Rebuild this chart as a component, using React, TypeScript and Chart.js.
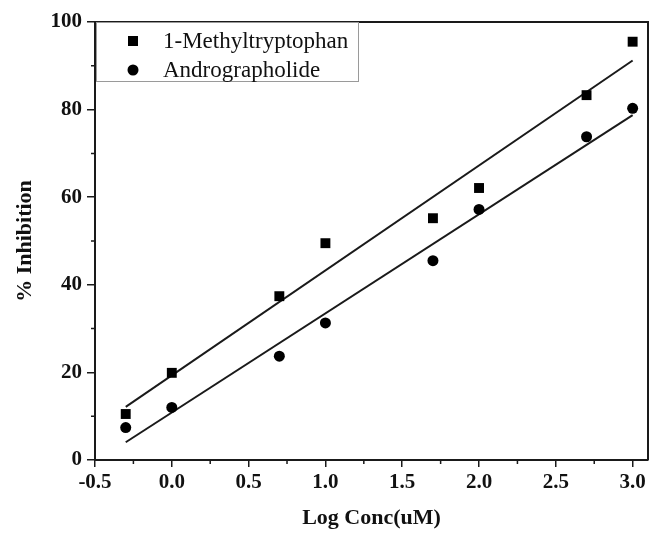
import React, { useEffect, useRef } from "react";
import { Chart, registerables } from "chart.js";

Chart.register(...registerables);

const logConc = [-0.3, 0, 0.7, 1, 1.7, 2, 2.7, 3];
const methylTryptophan = [10.5, 19.9, 37.4, 49.5, 55.2, 62.1, 83.3, 95.5];
const andrographolide = [7.4, 12.0, 23.7, 31.3, 45.5, 57.2, 73.8, 80.3];
const seriesNames = ["1-Methyltryptophan", "Andrographolide"];
const xTitle = "Log Conc(uM)";
const yTitle = "% Inhibition";
const xMinorTicks = [-0.25, 0.25, 0.75, 1.25, 1.75, 2.25, 2.75];
const yMinorTicks = [10, 30, 50, 70, 90];

function linearFit(xs: number[], ys: number[]) {
  const n = xs.length;
  const mx = xs.reduce((a, b) => a + b, 0) / n;
  const my = ys.reduce((a, b) => a + b, 0) / n;
  let sxy = 0;
  let sxx = 0;
  for (let i = 0; i < n; i++) {
    sxy += (xs[i] - mx) * (ys[i] - my);
    sxx += (xs[i] - mx) * (xs[i] - mx);
  }
  const slope = sxy / sxx;
  const intercept = my - slope * mx;
  const x0 = Math.min(...xs);
  const x1 = Math.max(...xs);
  return [
    { x: x0, y: intercept + slope * x0 },
    { x: x1, y: intercept + slope * x1 },
  ];
}

const INK = "#1a1a1a";

const framePlugin = {
  id: "frame",
  afterDraw(chart: any) {
    const { ctx, chartArea } = chart;
    const xs = chart.scales.x;
    const ys = chart.scales.y;
    ctx.save();
    ctx.strokeStyle = INK;
    ctx.lineWidth = 2;
    ctx.beginPath();
    ctx.moveTo(chartArea.left, chartArea.top);
    ctx.lineTo(chartArea.right, chartArea.top);
    ctx.lineTo(chartArea.right, chartArea.bottom);
    ctx.stroke();
    ctx.lineWidth = 1.5;
    ctx.beginPath();
    xMinorTicks.forEach((v) => {
      const px = xs.getPixelForValue(v);
      ctx.moveTo(px, chartArea.bottom);
      ctx.lineTo(px, chartArea.bottom + 4);
    });
    yMinorTicks.forEach((v) => {
      const py = ys.getPixelForValue(v);
      ctx.moveTo(chartArea.left, py);
      ctx.lineTo(chartArea.left - 4, py);
    });
    ctx.stroke();

    const lx = chartArea.left + 1;
    const ly = chartArea.top;
    const lw = 262;
    const lh = 59;
    ctx.strokeStyle = "#9a9a9a";
    ctx.lineWidth = 1;
    ctx.strokeRect(lx + 0.5, ly + 0.5, lw, lh);
    const mx = chartArea.left + 38;
    const r1 = ly + 19;
    const r2 = ly + 48;
    ctx.fillStyle = "#000";
    ctx.fillRect(mx - 5, r1 - 5, 10, 10);
    ctx.beginPath();
    ctx.arc(mx, r2, 5.5, 0, Math.PI * 2);
    ctx.fill();
    ctx.fillStyle = "#111";
    ctx.font = "23px 'Liberation Serif'";
    ctx.textBaseline = "middle";
    ctx.textAlign = "left";
    ctx.fillText(seriesNames[0], chartArea.left + 68, r1 + 1);
    ctx.fillText(seriesNames[1], chartArea.left + 68, r2 + 1);
    ctx.restore();
  },
};

export default function App() {
  const ref = useRef<HTMLCanvasElement | null>(null);

  useEffect(() => {
    if (!ref.current) return;
    const pts = (ys: number[]) => logConc.map((x, i) => ({ x, y: ys[i] }));
    const chart = new Chart(ref.current, {
      type: "scatter",
      data: {
        datasets: [
          {
            label: seriesNames[0],
            data: pts(methylTryptophan),
            pointStyle: "rect",
            pointRadius: 7,
            pointBackgroundColor: "#000",
            pointBorderWidth: 0,
          },
          {
            label: seriesNames[1],
            data: pts(andrographolide),
            pointStyle: "circle",
            pointRadius: 5.5,
            pointBackgroundColor: "#000",
            pointBorderWidth: 0,
          },
          {
            label: "fit1",
            data: linearFit(logConc, methylTryptophan),
            showLine: true,
            pointRadius: 0,
            borderColor: INK,
            borderWidth: 2,
          },
          {
            label: "fit2",
            data: linearFit(logConc, andrographolide),
            showLine: true,
            pointRadius: 0,
            borderColor: INK,
            borderWidth: 2,
          },
        ],
      },
      options: {
        animation: false,
        responsive: false,
        layout: { autoPadding: false, padding: { top: 22, right: 1, left: 0, bottom: 0 } },
        plugins: { legend: { display: false }, tooltip: { enabled: false } },
        scales: {
          x: {
            type: "linear",
            min: -0.5,
            max: 3.1,
            afterFit: (s: any) => {
              s.height = 74;
              s.paddingRight = 0;
              s.paddingLeft = 0;
            },
            ticks: {
              stepSize: 0.5,
              includeBounds: false,
              padding: 3,
              color: "#111",
              font: { family: "'Liberation Serif'", size: 21, weight: "bold" },
              callback: (v: any) => Number(v).toFixed(1),
            },
            grid: {
              drawOnChartArea: false,
              drawTicks: true,
              tickLength: 7,
              color: INK,
              lineWidth: 1.5,
            },
            border: { display: true, color: INK, width: 2 },
            title: {
              display: true,
              text: xTitle,
              color: "#111",
              font: { family: "'Liberation Serif'", size: 22, weight: "bold" },
              padding: { top: 0, bottom: 2 },
            },
          },
          y: {
            type: "linear",
            min: 0,
            max: 100,
            afterFit: (s: any) => {
              s.width = 95;
              s.paddingTop = 0;
              s.paddingBottom = 0;
            },
            ticks: {
              stepSize: 20,
              padding: 5,
              color: "#111",
              font: { family: "'Liberation Serif'", size: 21, weight: "bold" },
            },
            grid: {
              drawOnChartArea: false,
              drawTicks: true,
              tickLength: 8,
              color: INK,
              lineWidth: 1.5,
            },
            border: { display: true, color: INK, width: 2 },
            title: {
              display: true,
              text: yTitle,
              color: "#111",
              font: { family: "'Liberation Serif'", size: 22, weight: "bold" },
              padding: { top: 12, bottom: 0 },
            },
          },
        },
      },
      plugins: [framePlugin],
    });
    return () => chart.destroy();
  }, []);

  return (
    <div style={{ position: "absolute", left: 0, top: 0, width: 649, height: 534, background: "#fff" }}>
      <canvas ref={ref} width={649} height={534} style={{ display: "block" }} />
    </div>
  );
}
